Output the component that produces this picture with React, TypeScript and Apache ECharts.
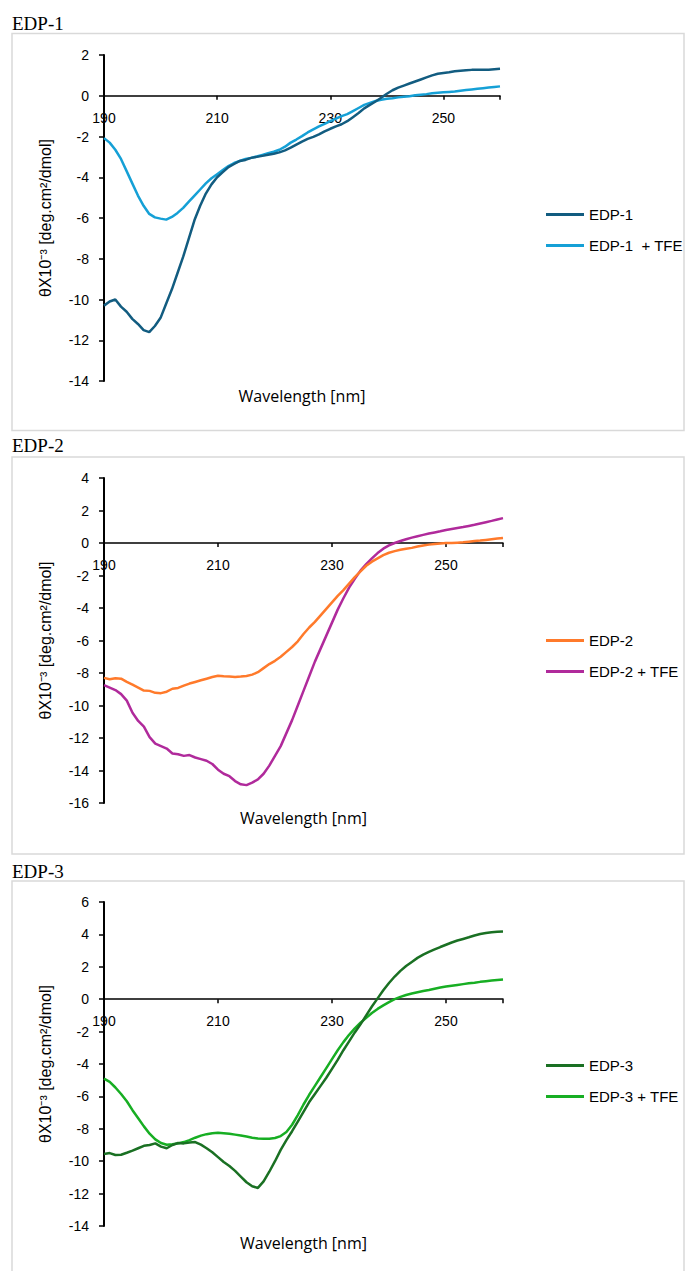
import React, { useEffect, useRef } from "react";
import * as echarts from "echarts";

const wavelengths: number[] = [];
for (let w = 190; w <= 260; w++) wavelengths.push(w);

const xTicks = [190, 210, 230, 250];

const edp1 = [
  -10.3, -10.1, -10.0, -10.35, -10.6, -10.95, -11.2, -11.5, -11.6, -11.3,
  -10.9, -10.2, -9.5, -8.7, -7.9, -7.0, -6.1, -5.4, -4.8, -4.35,
  -4.0, -3.75, -3.5, -3.35, -3.2, -3.15, -3.05, -3.0, -2.95, -2.9,
  -2.85, -2.78, -2.68, -2.55, -2.4, -2.25, -2.12, -2.02, -1.9, -1.75,
  -1.62, -1.5, -1.4, -1.25, -1.05, -0.85, -0.62, -0.45, -0.28, -0.1,
  0.1, 0.27, 0.4, 0.5, 0.6, 0.7, 0.8, 0.9, 1.0, 1.08,
  1.12, 1.15, 1.2, 1.23, 1.25, 1.27, 1.27, 1.27, 1.28, 1.3, 1.32,
];
const edp1Tfe = [
  -2.08, -2.3, -2.65, -3.1, -3.7, -4.3, -4.9, -5.4, -5.8, -5.97,
  -6.03, -6.08, -5.95, -5.75, -5.5, -5.2, -4.9, -4.6, -4.3, -4.05,
  -3.85, -3.65, -3.45, -3.3, -3.2, -3.1, -3.05, -2.98, -2.9, -2.82,
  -2.75, -2.65, -2.5, -2.3, -2.15, -1.98, -1.8, -1.65, -1.5, -1.38,
  -1.25, -1.12, -1.0, -0.9, -0.75, -0.6, -0.45, -0.35, -0.26, -0.2,
  -0.15, -0.12, -0.08, -0.05, -0.02, 0.02, 0.05, 0.08, 0.12, 0.15,
  0.17, 0.19, 0.21, 0.25, 0.28, 0.31, 0.34, 0.37, 0.4, 0.43, 0.46,
];
const edp2 = [
  -8.3, -8.38, -8.32, -8.35, -8.55, -8.72, -8.9, -9.08, -9.1, -9.22,
  -9.24, -9.15, -8.97, -8.92, -8.78, -8.65, -8.55, -8.45, -8.35, -8.25,
  -8.17, -8.2, -8.22, -8.24, -8.22, -8.18, -8.1, -7.95, -7.7, -7.45,
  -7.25, -7.0, -6.7, -6.4, -6.05, -5.6, -5.2, -4.85, -4.45, -4.05,
  -3.65, -3.25, -2.9, -2.5, -2.1, -1.75, -1.4, -1.15, -0.95, -0.75,
  -0.6, -0.5, -0.42, -0.35, -0.3, -0.22, -0.15, -0.1, -0.06, -0.03,
  0.0, 0.0, 0.02, 0.04, 0.08, 0.12, 0.15, 0.19, 0.23, 0.27, 0.31,
];
const edp2Tfe = [
  -8.75, -8.9, -9.05, -9.3, -9.7, -10.45, -10.95, -11.3, -11.95, -12.35,
  -12.5, -12.65, -12.95, -13.0, -13.1, -13.05, -13.2, -13.3, -13.4, -13.6,
  -13.95, -14.2, -14.35, -14.65, -14.85, -14.9, -14.75, -14.55, -14.2, -13.7,
  -13.1, -12.5, -11.7, -10.9, -10.0, -9.1, -8.2, -7.3, -6.5, -5.7,
  -4.9, -4.1, -3.4, -2.75, -2.2, -1.7, -1.3, -0.95, -0.62, -0.35,
  -0.15, 0.0, 0.12, 0.23, 0.33, 0.42, 0.5, 0.58, 0.65, 0.72,
  0.8, 0.86, 0.92, 0.98, 1.05, 1.12, 1.2, 1.28, 1.36, 1.45, 1.53,
];
const edp3 = [
  -9.55, -9.5, -9.62, -9.6, -9.48, -9.35, -9.2, -9.05, -9.0, -8.9,
  -9.1, -9.2, -9.0, -8.88, -8.9, -8.85, -8.82, -8.98, -9.2, -9.45,
  -9.75, -10.05, -10.3, -10.6, -10.95, -11.3, -11.55, -11.65, -11.25, -10.65,
  -10.0, -9.3, -8.7, -8.15, -7.55, -6.95, -6.35, -5.85, -5.35, -4.85,
  -4.3, -3.75, -3.15, -2.6, -2.05, -1.55, -1.0, -0.45, 0.05, 0.55,
  1.0, 1.4, 1.75, 2.05, 2.3, 2.55, 2.75, 2.92, 3.07, 3.22,
  3.36, 3.5, 3.62, 3.72, 3.82, 3.93, 4.02, 4.08, 4.13, 4.16, 4.18,
];
const edp3Tfe = [
  -4.9, -5.1, -5.45, -5.85, -6.3, -6.85, -7.35, -7.85, -8.3, -8.65,
  -8.88, -8.98, -8.96, -8.9, -8.82, -8.7, -8.55, -8.42, -8.33, -8.27,
  -8.24, -8.27, -8.3, -8.36, -8.42, -8.48, -8.55, -8.6, -8.62, -8.62,
  -8.57, -8.45, -8.2, -7.75, -7.15, -6.5, -5.9, -5.35, -4.8, -4.25,
  -3.7, -3.15, -2.65, -2.2, -1.8, -1.45, -1.15, -0.85, -0.6, -0.38,
  -0.18, 0.0, 0.14, 0.26, 0.35, 0.43, 0.5, 0.57, 0.65, 0.72,
  0.78, 0.83, 0.88, 0.93, 0.98, 1.02, 1.07, 1.11, 1.15, 1.19, 1.22,
];

const panelTitles = ["EDP-1", "EDP-2", "EDP-3"];
const seriesNames = [
  ["EDP-1", "EDP-1  + TFE"],
  ["EDP-2", "EDP-2 + TFE"],
  ["EDP-3", "EDP-3 + TFE"],
];
const seriesData = [
  [edp1, edp1Tfe],
  [edp2, edp2Tfe],
  [edp3, edp3Tfe],
];
const yRanges = [
  [-14, 2],
  [-16, 4],
  [-14, 6],
];
const yAxisTitle = "θX10⁻³ [deg.cm²/dmol]";
const xAxisTitle = "Wavelength [nm]";

const colors = [
  ["#125C80", "#15A0D6"],
  ["#FF7A2B", "#B02A9B"],
  ["#1A7023", "#17AE23"],
];

// layout (pixels)
const grids = [
  { left: 104, top: 55, width: 396, height: 326 },
  { left: 104, top: 478, width: 399, height: 325 },
  { left: 104, top: 902, width: 399, height: 324 },
];
const boxes = [
  { y: 33.5, h: 397 },
  { y: 457, h: 397 },
  { y: 881, h: 400 },
];
const titleY = [23, 445.5, 871];
const legendTops = [202, 628, 1053];
const xNameY = [396, 818, 1243];

export default function App() {
  const ref = useRef<HTMLDivElement>(null);
  useEffect(() => {
    if (!ref.current) return;
    const chart = echarts.init(ref.current, undefined, { renderer: "svg" });
    const font = "'Liberation Sans', Arial, sans-serif";

    const xAxis: any[] = [];
    const yAxis: any[] = [];
    const series: any[] = [];
    const legend: any[] = [];
    const graphic: any[] = [];

    for (let p = 0; p < 3; p++) {
      const g = grids[p];
      const [yMin, yMax] = yRanges[p];
      // distance from grid bottom up to the zero line
      const zeroOffset = (-yMin / (yMax - yMin)) * g.height;
      xAxis.push({
        type: "value",
        gridIndex: p,
        position: "bottom",
        offset: -zeroOffset,
        min: 190,
        max: 260,
        interval: 20,
        axisLine: { onZero: false, lineStyle: { color: "#000", width: 1.5 } },
        axisTick: { show: true, length: 4, lineStyle: { color: "#000", width: 1.5 } },
        axisLabel: {
          margin: 15,
          fontSize: 14,
          color: "#000",
          fontFamily: font,
          formatter: (v: number) => (xTicks.includes(v) ? String(v) : ""),
        },
        splitLine: { show: false },
      });
      yAxis.push({
        type: "value",
        gridIndex: p,
        min: yMin,
        max: yMax,
        interval: 2,
        axisLine: { show: true, onZero: false, lineStyle: { color: "#000", width: 2 } },
        axisTick: { show: true, length: 5, lineStyle: { color: "#000", width: 1.5 } },
        axisLabel: { margin: 15, fontSize: 14, color: "#000", fontFamily: font },
        splitLine: { show: false },
      });
      for (let s = 0; s < 2; s++) {
        series.push({
          type: "line",
          name: seriesNames[p][s],
          xAxisIndex: p,
          yAxisIndex: p,
          data: wavelengths.map((w, i) => [w, seriesData[p][s][i]]),
          showSymbol: false,
          symbol: "none",
          lineStyle: { color: colors[p][s], width: 2.5 },
          itemStyle: { color: colors[p][s] },
          z: 3 - s,
        });
      }
      legend.push({
        data: seriesNames[p].map((n) => ({ name: n, icon: "rect" })),
        orient: "vertical",
        left: 541,
        top: legendTops[p],
        itemWidth: 38,
        itemHeight: 3,
        itemGap: 16,
        textStyle: { fontSize: 15, color: "#000", fontFamily: font, lineHeight: 15 },
      });
      graphic.push({
        type: "rect",
        shape: { x: 12, y: boxes[p].y, width: 672, height: boxes[p].h },
        style: { fill: "none", stroke: "#d9d9d9", lineWidth: 1.5 },
        silent: true,
      });
      graphic.push({
        type: "text",
        x: 12,
        y: titleY[p],
        style: {
          text: panelTitles[p],
          font: "19px 'Liberation Serif', 'Times New Roman', serif",
          fill: "#000",
          textVerticalAlign: "middle",
        },
      });
      graphic.push({
        type: "text",
        x: 45,
        y: g.top + g.height / 2,
        rotation: Math.PI / 2,
        style: {
          text: yAxisTitle,
          font: "16px " + font,
          fill: "#000",
          textAlign: "center",
          textVerticalAlign: "middle",
        },
      });
      graphic.push({
        type: "text",
        x: g.left + g.width / 2,
        y: xNameY[p],
        style: {
          text: xAxisTitle,
          font: "16px 'Open Sans', sans-serif",
          fill: "#000",
          textAlign: "center",
          textVerticalAlign: "middle",
        },
      });
    }

    chart.setOption({
      animation: false,
      backgroundColor: "#fff",
      grid: grids.map((g) => ({ ...g, containLabel: false })),
      xAxis,
      yAxis,
      series,
      legend,
      graphic,
    });
    return () => chart.dispose();
  }, []);

  return (
    <div
      ref={ref}
      style={{ position: "absolute", left: 0, top: 0, width: 685, height: 1271 }}
    />
  );
}
